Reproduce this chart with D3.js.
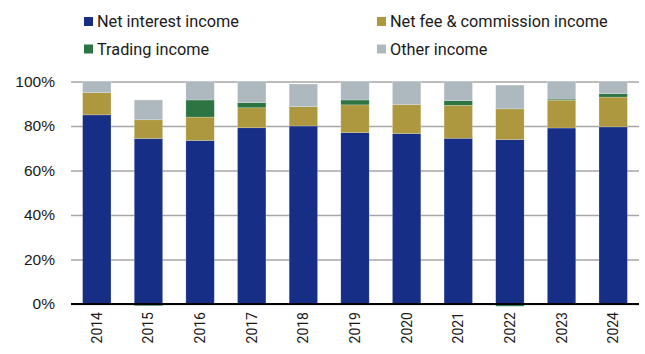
<!DOCTYPE html>
<html lang="en">
<head>
<meta charset="utf-8">
<title>Income composition</title>
<script src="https://cdn.jsdelivr.net/npm/d3@7"></script>
<style>
    body { margin: 0; background: #fff; }
    svg { display: block; font-family: Roboto, "Noto Sans", sans-serif; }
    .tick text { fill: #1a1a1a; }
</style>
</head>
<body>
<div id="chart"></div>
<script>
// values, % of total income
var years = ["2014","2015","2016","2017","2018","2019","2020","2021","2022","2023","2024"];
var netInterest = [85, 74.4, 73.5, 79.2, 80, 77, 76.6, 74.5, 73.9, 79.1, 79.6];
var netFee      = [10, 8.4, 10.5, 9, 8.7, 12.5, 13, 14.8, 13.8, 12.5, 13.4];
var trading     = [0, -0.8, 7.7, 2.3, -0.3, 2.2, 0, 2.1, -1, 0.5, 1.5];
var other       = [5, 8.9, 8.3, 9.5, 10.2, 8.3, 10.4, 8.6, 10.7, 7.9, 5.5];
var yTicks = [0, 20, 40, 60, 80, 100];

var series = [
    {name: "Net interest income", values: netInterest, color: "#172E86"},
    {name: "Net fee & commission income", values: netFee, color: "#AD9840"},
    {name: "Trading income", values: trading, color: "#2C7442"},
    {name: "Other income", values: other, color: "#ADB9BF"}
];

var width = 645, height = 354;
var svg = d3.select("#chart").append("svg")
    .attr("width", width)
    .attr("height", height);

var x = d3.scaleBand().domain(years).range([71, 639]).paddingInner(0.45).paddingOuter(0.225);
var y = d3.scaleLinear().domain([0, 100]).range([304, 81.5]);

// grid
svg.append("g")
    .attr("transform", "translate(71,0)")
    .call(d3.axisLeft(y).tickValues(yTicks).tickSize(-568).tickFormat(d => d + "%"))
    .call(g => g.select(".domain").remove())
    .call(g => g.selectAll(".tick line").attr("stroke", "#A6A6A6").attr("stroke-width", 1.5))
    .call(g => g.selectAll(".tick text").attr("x", -16).style("font-size", "15.5px"));

// stacking: positives upward, negatives downward
var stacks = years.map(() => ({pos: 0, neg: 0}));
series.forEach(s => {
    var rects = s.values.map((v, i) => {
        var y0, y1;
        if (v >= 0) { y0 = stacks[i].pos; y1 = y0 + v; stacks[i].pos = y1; }
        else { y1 = stacks[i].neg; y0 = y1 + v; stacks[i].neg = y0; }
        return {year: years[i], y0: y0, y1: y1};
    });
    svg.append("g")
        .selectAll("rect")
        .data(rects)
        .enter()
        .append("rect")
        .attr("x", d => x(d.year))
        .attr("width", x.bandwidth())
        .attr("y", d => y(d.y1))
        .attr("height", d => Math.max(0, y(d.y0) - y(d.y1)))
        .attr("fill", s.color)
        .attr("stroke", "#fff")
        .attr("stroke-opacity", 0.35)
        .attr("stroke-width", 0.6);
});

// zero line and year labels
svg.append("line")
    .attr("x1", 71).attr("x2", 639)
    .attr("y1", y(0)).attr("y2", y(0))
    .attr("stroke", "#000").attr("stroke-width", 1.8);

svg.append("g")
    .selectAll("text")
    .data(years)
    .enter()
    .append("text")
    .attr("transform", d => `translate(${x(d) + x.bandwidth() / 2 + 5},312) rotate(-90)`)
    .attr("text-anchor", "end")
    .style("font-size", "14px")
    .style("fill", "#1a1a1a")
    .text(d => d);

// legend
var legendPos = [[84, 21.5], [377, 21.5], [84, 49], [377, 49]];
var legend = svg.append("g")
    .selectAll("g")
    .data(series)
    .enter()
    .append("g")
    .attr("transform", (d, i) => `translate(${legendPos[i][0]},${legendPos[i][1]})`);
legend.append("rect")
    .attr("x", 0).attr("y", -4.5).attr("width", 9).attr("height", 9)
    .attr("fill", d => d.color);
legend.append("text")
    .attr("x", 13).attr("dy", "0.35em")
    .style("font-size", "16.3px")
    .style("fill", "#1a1a1a")
    .text(d => d.name);
</script>
</body>
</html>
